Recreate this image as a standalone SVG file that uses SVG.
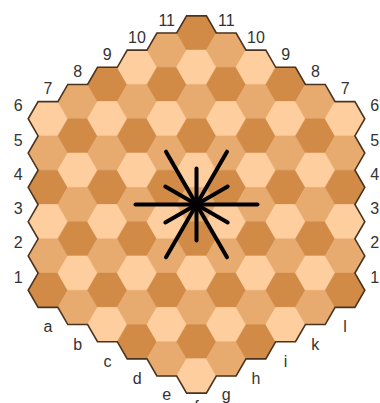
<svg xmlns="http://www.w3.org/2000/svg" width="380" height="403" viewBox="0 0 380 403">
<style>
.L{fill:#FFCE9E;stroke:#FFCE9E}
.M{fill:#E8AB6F;stroke:#E8AB6F}
.D{fill:#D18B47;stroke:#D18B47}
#cells use{stroke-width:0.6}
.lbl{font-family:"Liberation Sans",Arial,sans-serif;font-size:16px;fill:#333;text-anchor:middle}
#star line{stroke:#000;stroke-width:4;stroke-linecap:round}
#outline{fill:none;stroke:#4a3420;stroke-width:1.6;stroke-linejoin:miter}
</style>
<defs><path id="hx" d="M-19.8,0L-9.9,-17.15L9.9,-17.15L19.8,0L9.9,17.15L-9.9,17.15Z"/></defs>
<rect width="380" height="403" fill="#fff"/>
<g id="cells">
<g id="file-a">
<use href="#hx" x="48" y="118.75" class="L"/><use href="#hx" x="48" y="153.05" class="M"/><use href="#hx" x="48" y="187.35" class="D"/><use href="#hx" x="48" y="221.65" class="L"/><use href="#hx" x="48" y="255.95" class="M"/><use href="#hx" x="48" y="290.25" class="D"/>
</g>
<g id="file-b">
<use href="#hx" x="77.7" y="101.6" class="M"/><use href="#hx" x="77.7" y="135.9" class="D"/><use href="#hx" x="77.7" y="170.2" class="L"/><use href="#hx" x="77.7" y="204.5" class="M"/><use href="#hx" x="77.7" y="238.8" class="D"/><use href="#hx" x="77.7" y="273.1" class="L"/><use href="#hx" x="77.7" y="307.4" class="M"/>
</g>
<g id="file-c">
<use href="#hx" x="107.4" y="84.45" class="D"/><use href="#hx" x="107.4" y="118.75" class="L"/><use href="#hx" x="107.4" y="153.05" class="M"/><use href="#hx" x="107.4" y="187.35" class="D"/><use href="#hx" x="107.4" y="221.65" class="L"/><use href="#hx" x="107.4" y="255.95" class="M"/><use href="#hx" x="107.4" y="290.25" class="D"/><use href="#hx" x="107.4" y="324.55" class="L"/>
</g>
<g id="file-d">
<use href="#hx" x="137.1" y="67.3" class="L"/><use href="#hx" x="137.1" y="101.6" class="M"/><use href="#hx" x="137.1" y="135.9" class="D"/><use href="#hx" x="137.1" y="170.2" class="L"/><use href="#hx" x="137.1" y="204.5" class="M"/><use href="#hx" x="137.1" y="238.8" class="D"/><use href="#hx" x="137.1" y="273.1" class="L"/><use href="#hx" x="137.1" y="307.4" class="M"/><use href="#hx" x="137.1" y="341.7" class="D"/>
</g>
<g id="file-e">
<use href="#hx" x="166.8" y="50.15" class="M"/><use href="#hx" x="166.8" y="84.45" class="D"/><use href="#hx" x="166.8" y="118.75" class="L"/><use href="#hx" x="166.8" y="153.05" class="M"/><use href="#hx" x="166.8" y="187.35" class="D"/><use href="#hx" x="166.8" y="221.65" class="L"/><use href="#hx" x="166.8" y="255.95" class="M"/><use href="#hx" x="166.8" y="290.25" class="D"/><use href="#hx" x="166.8" y="324.55" class="L"/><use href="#hx" x="166.8" y="358.85" class="M"/>
</g>
<g id="file-f">
<use href="#hx" x="196.5" y="33" class="D"/><use href="#hx" x="196.5" y="67.3" class="L"/><use href="#hx" x="196.5" y="101.6" class="M"/><use href="#hx" x="196.5" y="135.9" class="D"/><use href="#hx" x="196.5" y="170.2" class="L"/><use href="#hx" x="196.5" y="204.5" class="M"/><use href="#hx" x="196.5" y="238.8" class="D"/><use href="#hx" x="196.5" y="273.1" class="L"/><use href="#hx" x="196.5" y="307.4" class="M"/><use href="#hx" x="196.5" y="341.7" class="D"/><use href="#hx" x="196.5" y="376" class="L"/>
</g>
<g id="file-g">
<use href="#hx" x="226.2" y="50.15" class="M"/><use href="#hx" x="226.2" y="84.45" class="D"/><use href="#hx" x="226.2" y="118.75" class="L"/><use href="#hx" x="226.2" y="153.05" class="M"/><use href="#hx" x="226.2" y="187.35" class="D"/><use href="#hx" x="226.2" y="221.65" class="L"/><use href="#hx" x="226.2" y="255.95" class="M"/><use href="#hx" x="226.2" y="290.25" class="D"/><use href="#hx" x="226.2" y="324.55" class="L"/><use href="#hx" x="226.2" y="358.85" class="M"/>
</g>
<g id="file-h">
<use href="#hx" x="255.9" y="67.3" class="L"/><use href="#hx" x="255.9" y="101.6" class="M"/><use href="#hx" x="255.9" y="135.9" class="D"/><use href="#hx" x="255.9" y="170.2" class="L"/><use href="#hx" x="255.9" y="204.5" class="M"/><use href="#hx" x="255.9" y="238.8" class="D"/><use href="#hx" x="255.9" y="273.1" class="L"/><use href="#hx" x="255.9" y="307.4" class="M"/><use href="#hx" x="255.9" y="341.7" class="D"/>
</g>
<g id="file-i">
<use href="#hx" x="285.6" y="84.45" class="D"/><use href="#hx" x="285.6" y="118.75" class="L"/><use href="#hx" x="285.6" y="153.05" class="M"/><use href="#hx" x="285.6" y="187.35" class="D"/><use href="#hx" x="285.6" y="221.65" class="L"/><use href="#hx" x="285.6" y="255.95" class="M"/><use href="#hx" x="285.6" y="290.25" class="D"/><use href="#hx" x="285.6" y="324.55" class="L"/>
</g>
<g id="file-k">
<use href="#hx" x="315.3" y="101.6" class="M"/><use href="#hx" x="315.3" y="135.9" class="D"/><use href="#hx" x="315.3" y="170.2" class="L"/><use href="#hx" x="315.3" y="204.5" class="M"/><use href="#hx" x="315.3" y="238.8" class="D"/><use href="#hx" x="315.3" y="273.1" class="L"/><use href="#hx" x="315.3" y="307.4" class="M"/>
</g>
<g id="file-l">
<use href="#hx" x="345" y="118.75" class="L"/><use href="#hx" x="345" y="153.05" class="M"/><use href="#hx" x="345" y="187.35" class="D"/><use href="#hx" x="345" y="221.65" class="L"/><use href="#hx" x="345" y="255.95" class="M"/><use href="#hx" x="345" y="290.25" class="D"/>
</g>
</g>
<path id="outline" d="M28.2,118.75L38.1,101.6L57.9,101.6L67.8,84.45L87.6,84.45L97.5,67.3L117.3,67.3L127.2,50.15L147,50.15L156.9,33L176.7,33L186.6,15.85L206.4,15.85L216.3,33L236.1,33L246,50.15L265.8,50.15L275.7,67.3L295.5,67.3L305.4,84.45L325.2,84.45L335.1,101.6L354.9,101.6L364.8,118.75L354.9,135.9L364.8,153.05L354.9,170.2L364.8,187.35L354.9,204.5L364.8,221.65L354.9,238.8L364.8,255.95L354.9,273.1L364.8,290.25L354.9,307.4L335.1,307.4L325.2,324.55L305.4,324.55L295.5,341.7L275.7,341.7L265.8,358.85L246,358.85L236.1,376L216.3,376L206.4,393.15L186.6,393.15L176.7,376L156.9,376L147,358.85L127.2,358.85L117.3,341.7L97.5,341.7L87.6,324.55L67.8,324.55L57.9,307.4L38.1,307.4L28.2,290.25L38.1,273.1L28.2,255.95L38.1,238.8L28.2,221.65L38.1,204.5L28.2,187.35L38.1,170.2L28.2,153.05L38.1,135.9Z"/>
<g id="star">
<line x1="196.5" y1="204.5" x2="257.5" y2="204.5"/>
<line x1="196.5" y1="204.5" x2="135.5" y2="204.5"/>
<line x1="196.5" y1="204.5" x2="227" y2="151.7"/>
<line x1="196.5" y1="204.5" x2="166" y2="151.7"/>
<line x1="196.5" y1="204.5" x2="166" y2="257.3"/>
<line x1="196.5" y1="204.5" x2="227" y2="257.3"/>
<line x1="196.5" y1="204.5" x2="196.5" y2="168.5"/>
<line x1="196.5" y1="204.5" x2="196.5" y2="240.5"/>
<line x1="196.5" y1="204.5" x2="227.7" y2="186.5"/>
<line x1="196.5" y1="204.5" x2="165.3" y2="186.5"/>
<line x1="196.5" y1="204.5" x2="165.3" y2="222.5"/>
<line x1="196.5" y1="204.5" x2="227.7" y2="222.5"/>
<circle cx="196.5" cy="204.5" r="5" fill="#000"/>
</g>
<g id="labels">
<text class="lbl" x="18.2" y="111.25">6</text>
<text class="lbl" x="18.2" y="145.55">5</text>
<text class="lbl" x="18.2" y="179.85">4</text>
<text class="lbl" x="18.2" y="214.15">3</text>
<text class="lbl" x="18.2" y="248.45">2</text>
<text class="lbl" x="18.2" y="282.75">1</text>
<text class="lbl" x="47.9" y="94.1">7</text>
<text class="lbl" x="77.6" y="76.95">8</text>
<text class="lbl" x="107.3" y="59.8">9</text>
<text class="lbl" x="137" y="42.65">10</text>
<text class="lbl" x="166.7" y="25.5">11</text>
<text class="lbl" x="226.3" y="25.5">11</text>
<text class="lbl" x="256" y="42.65">10</text>
<text class="lbl" x="285.7" y="59.8">9</text>
<text class="lbl" x="315.4" y="76.95">8</text>
<text class="lbl" x="345.1" y="94.1">7</text>
<text class="lbl" x="374.8" y="111.25">6</text>
<text class="lbl" x="374.8" y="145.55">5</text>
<text class="lbl" x="374.8" y="179.85">4</text>
<text class="lbl" x="374.8" y="214.15">3</text>
<text class="lbl" x="374.8" y="248.45">2</text>
<text class="lbl" x="374.8" y="282.75">1</text>
<text class="lbl" x="48" y="332.4">a</text>
<text class="lbl" x="77.7" y="349.6">b</text>
<text class="lbl" x="107.4" y="366.7">c</text>
<text class="lbl" x="137.1" y="383.9">d</text>
<text class="lbl" x="166.8" y="400">e</text>
<text class="lbl" x="196.5" y="412">f</text>
<text class="lbl" x="226.2" y="400">g</text>
<text class="lbl" x="255.9" y="383.9">h</text>
<text class="lbl" x="285.6" y="366.7">i</text>
<text class="lbl" x="315.3" y="349.6">k</text>
<text class="lbl" x="345" y="332.4">l</text>
</g>
</svg>
